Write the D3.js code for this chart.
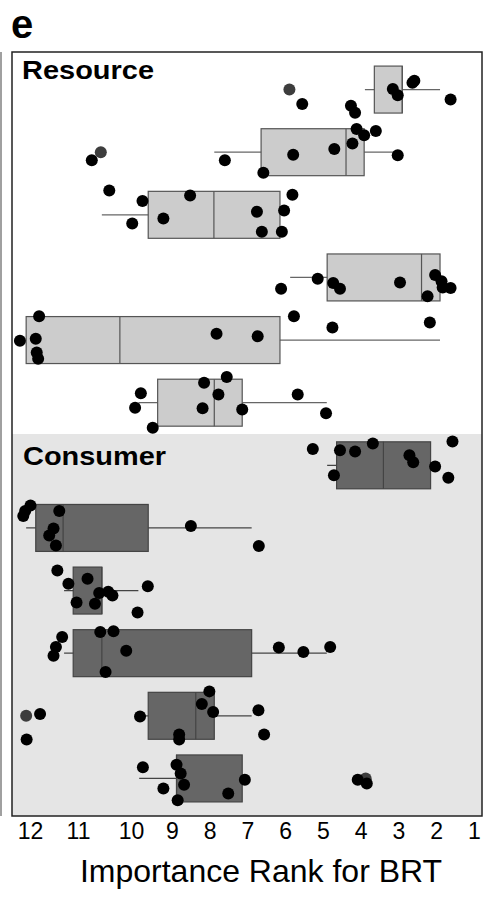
<!DOCTYPE html>
<html><head><meta charset="utf-8">
<script src="https://cdn.jsdelivr.net/npm/d3@7/dist/d3.min.js"></script>
<style>body{margin:0;background:#fff}svg{display:block}text{font-family:"Liberation Sans",Arial,Helvetica,sans-serif}</style>
</head><body>
<script>
// ---- data (ranks) ----
const rowNames = ["R1","R2","R3","R4","R5","R6","C1","C2","C3","C4","C5","C6"];
const rowGroup = ["Resource","Resource","Resource","Resource","Resource","Resource","Consumer","Consumer","Consumer","Consumer","Consumer","Consumer"];
const panelNames = ["Resource","Consumer"];
// [whisker low rank, box low, median, box high, whisker high]
const boxStats = [
  [1.90, 2.90, 2.90, 3.64, 3.89],
  [3.02, 3.91, 4.39, 6.64, 7.88],
  [6.14, 6.14, 7.89, 9.58, 10.55],
  [1.90, 1.90, 2.39, 4.89, 5.87],
  [1.90, 6.14, 10.21, 12.08, 12.08],
  [4.90, 7.14, 7.88, 9.35, 9.82],
  [2.15, 2.15, 3.40, 4.64, 4.89],
  [6.89, 9.58, 11.31, 11.88, 12.08],
  [9.82, 10.55, 10.55, 11.10, 11.29],
  [4.90, 6.89, 10.55, 11.10, 11.29],
  [6.89, 7.88, 8.37, 9.58, 9.78],
  [7.14, 7.14, 8.88, 8.88, 9.80]
];
const outliers = [[5.89],[10.57],[],[],[],[],[],[],[],[],[12.08],[3.87]];
const pointRanks = [
  [2.58, 2.63, 3.15, 3.02, 1.62, 5.55, 4.26, 4.15],
  [4.11, 3.91, 3.60, 4.22, 4.70, 5.79, 3.02, 7.60, 6.58, 10.74],
  [10.41, 9.72, 8.52, 5.81, 6.03, 6.75, 9.21, 9.97, 6.62, 6.09],
  [5.14, 4.73, 4.55, 2.96, 2.03, 1.86, 1.83, 1.62, 2.23, 6.11],
  [11.81, 12.21, 11.88, 11.86, 11.83, 7.82, 6.73, 5.77, 4.75, 2.17],
  [9.76, 9.90, 9.47, 8.15, 7.55, 7.77, 8.19, 7.14, 5.67, 4.92],
  [5.27, 4.55, 4.15, 3.68, 2.71, 2.61, 2.03, 1.57, 1.68, 4.71],
  [11.99, 12.10, 12.14, 11.39, 11.51, 11.60, 11.46, 8.50, 6.70],
  [11.43, 11.20, 10.82, 10.60, 10.43, 10.35, 9.59, 11.03, 10.68, 9.84],
  [11.33, 11.46, 11.51, 10.58, 10.33, 10.09, 10.48, 6.17, 5.52, 4.81],
  [11.79, 12.07, 9.78, 8.01, 8.21, 7.91, 6.71, 6.56, 8.81, 8.81],
  [9.71, 8.88, 8.77, 8.68, 9.21, 8.85, 7.51, 7.07, 4.08, 3.84]
];
// vertical jitter, as a fraction of the row spacing
const pointJitter = [
  [-0.14, -0.11, -0.01, 0.09, 0.16, 0.23, 0.26, 0.37],
  [-0.37, -0.27, -0.34, -0.14, -0.05, 0.04, 0.05, 0.13, 0.33, 0.13],
  [-0.39, -0.22, -0.31, -0.32, -0.07, -0.05, 0.06, 0.14, 0.27, 0.27],
  [0.02, 0.09, 0.18, 0.08, -0.04, 0.06, 0.16, 0.17, 0.30, 0.18],
  [-0.38, 0.01, -0.02, 0.20, 0.30, -0.10, -0.06, -0.38, -0.20, -0.28],
  [-0.15, 0.08, 0.40, -0.32, -0.41, -0.13, 0.09, 0.11, -0.13, 0.17],
  [-0.26, -0.24, -0.22, -0.35, -0.16, -0.05, 0.02, -0.38, 0.20, 0.16],
  [-0.36, -0.27, -0.19, -0.27, 0.01, 0.12, 0.28, -0.03, 0.29],
  [-0.32, -0.11, -0.19, 0.04, 0.02, 0.08, -0.07, 0.19, 0.21, 0.35],
  [-0.26, -0.10, 0.04, -0.34, -0.35, -0.04, 0.30, -0.09, -0.02, -0.10],
  [-0.03, 0.38, 0.01, -0.39, -0.19, -0.06, -0.09, 0.30, 0.30, 0.38],
  [-0.18, -0.22, -0.08, 0.10, 0.16, 0.35, 0.24, 0.02, 0.02, 0.08]
];
const xTicks = [12, 11, 10, 9, 8, 7, 6, 5, 4, 3, 2, 1];
const xTitle = "Importance Rank for BRT";
const panelLetter = "e";

// ---- layout ----
const W = 486, H = 899;
const frame = {left: 12, right: 482, top: 52, bottom: 816};
const svg = d3.select("body").append("svg").attr("width", W).attr("height", H);

const x = d3.scaleLinear().domain([12, 11, 10, 9, 1]).range([30, 78, 131, 172, 474]);
const y = d3.scalePoint().domain(rowNames).range([frame.top, frame.bottom]).padding(0.6);
const step = y.step();
const boxH = step * 0.75;
const split = (y("R6") + y("C1")) / 2;

// panel backgrounds
svg.append("rect").attr("x", frame.left).attr("y", frame.top).attr("width", frame.right - frame.left)
  .attr("height", split - frame.top).attr("fill", "#ffffff");
svg.append("rect").attr("x", frame.left).attr("y", split).attr("width", frame.right - frame.left)
  .attr("height", frame.bottom - split).attr("fill", "#e5e5e5");

// partial neighbouring border on the far left
svg.append("line").attr("x1", 1).attr("x2", 1).attr("y1", frame.top).attr("y2", frame.bottom)
  .attr("stroke", "#a0a0a0").attr("stroke-width", 2);

const boxes = svg.append("g");
rowNames.forEach((r, i) => {
  const s = boxStats[i];
  const cy = y(r);
  const isRes = rowGroup[i] === "Resource";
  const fill = isRes ? "#cccccc" : "#666666";
  const strk = isRes ? "#555555" : "#444444";
  const g = boxes.append("g");
  g.append("line").attr("x1", x(s[0])).attr("x2", x(s[4])).attr("y1", cy).attr("y2", cy)
    .attr("stroke", isRes ? "#666" : "#444").attr("stroke-width", 1.2);
  g.append("rect").attr("x", x(s[3])).attr("width", x(s[1]) - x(s[3]))
    .attr("y", cy - boxH / 2).attr("height", boxH)
    .attr("fill", fill).attr("stroke", strk).attr("stroke-width", 1.2);
  g.append("line").attr("x1", x(s[2])).attr("x2", x(s[2])).attr("y1", cy - boxH / 2).attr("y2", cy + boxH / 2)
    .attr("stroke", strk).attr("stroke-width", 1.2);
});

// outliers
const outG = svg.append("g");
rowNames.forEach((r, i) => {
  outG.selectAll(null).data(outliers[i]).join("circle")
    .attr("cx", d => x(d)).attr("cy", y(r)).attr("r", 6).attr("fill", "#3d3d3d");
});

// jittered points
const ptG = svg.append("g");
rowNames.forEach((r, i) => {
  ptG.selectAll(null).data(pointRanks[i].map((v, j) => ({v, j: pointJitter[i][j]}))).join("circle")
    .attr("cx", d => x(d.v)).attr("cy", d => y(r) + d.j * step).attr("r", 6).attr("fill", "#000");
});

// frame
svg.append("rect").attr("x", frame.left).attr("y", frame.top).attr("width", frame.right - frame.left)
  .attr("height", frame.bottom - frame.top).attr("fill", "none").attr("stroke", "#222").attr("stroke-width", 1.5);

// panel labels
const labelY = {Resource: 79, Consumer: 465};
panelNames.forEach(p => {
  svg.append("text").attr("x", p === "Resource" ? 22 : 23).attr("y", labelY[p])
    .attr("font-size", 25).attr("font-weight", "bold").attr("fill", "#000")
    .attr("textLength", p === "Resource" ? 132 : 143).attr("lengthAdjust", "spacingAndGlyphs")
    .text(p);
});

// x axis
const axis = d3.axisBottom(x).tickValues(xTicks).tickSize(0).tickPadding(0).tickFormat(d3.format("d"));
const ag = svg.append("g").attr("transform", `translate(0,${frame.bottom})`).call(axis);
ag.select(".domain").remove();
ag.selectAll("text").attr("font-size", 23).attr("fill", "#000").attr("dy", null).attr("y", 23)
  .style("font-family", '"Liberation Sans",Arial,sans-serif');

svg.append("text").attr("x", 261).attr("y", 882).attr("text-anchor", "middle")
  .attr("font-size", 32).attr("fill", "#000").text(xTitle);

svg.append("text").attr("x", 11).attr("y", 38).attr("font-size", 40).attr("font-weight", "bold")
  .attr("fill", "#000").text(panelLetter);
</script>
</body></html>
